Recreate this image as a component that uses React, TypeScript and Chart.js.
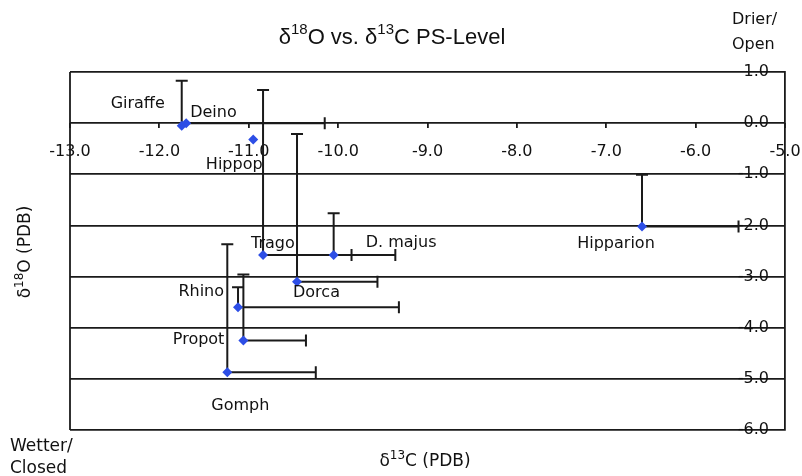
import React, { useEffect, useRef } from 'react';
import { Chart, registerables } from 'chart.js';

Chart.register(...registerables);

// ---- data ----
const species = ['Giraffe', 'Deino', 'Hippop', 'Trago', 'D. majus', 'Hipparion', 'Rhino', 'Dorca', 'Propot', 'Gomph'];
const d13C = [-11.75, -11.70, -10.95, -10.84, -10.05, -6.60, -11.12, -10.46, -11.06, -11.24];
const d18O = [-0.05, 0.0, -0.32, -2.58, -2.58, -2.02, -3.60, -3.10, -4.25, -4.87];
const xErrPlus = [0, 1.55, 0, 0.99, 0.69, 1.08, 1.80, 0.90, 0.70, 0.99];
const yErrPlus = [0.88, 0, 0, 3.23, 0.82, 1.01, 0.39, 2.89, 1.29, 2.50];
const xTickRange = [-13, -5];
const yTickRange = [-6, 1];

// ---- label layout (pixel offsets from each point, text alignment) ----
const labelLayout: [number, number, CanvasTextAlign][] = [
  [-17, -22, 'right'],
  [4, -10, 'left'],
  [-19, 25, 'center'],
  [-12, -11, 'left'],
  [32, -12, 'left'],
  [-26, 17, 'center'],
  [-14, -15, 'right'],
  [-4, 11, 'left'],
  [-19, -1, 'right'],
  [13, 34, 'center'],
];

const BLUE = '#2d4ee6';
const LINE = '#1a1a1a';
const TEXT = '#111111';
const FONT = "'DejaVu Sans', sans-serif";
const TITLE_FONT = "'Liberation Sans', Arial, sans-serif";

type Part = { t: string; sup?: boolean };

function drawRich(ctx: CanvasRenderingContext2D, parts: Part[], x: number, y: number, size: number, supSize: number, raise: number, family: string, align: 'left' | 'center') {
  let total = 0;
  for (const p of parts) {
    ctx.font = `${p.sup ? supSize : size}px ${family}`;
    total += ctx.measureText(p.t).width;
  }
  let cx = align === 'center' ? x - total / 2 : x;
  ctx.textAlign = 'left';
  ctx.textBaseline = 'alphabetic';
  for (const p of parts) {
    ctx.font = `${p.sup ? supSize : size}px ${family}`;
    ctx.fillText(p.t, cx, p.sup ? y - raise : y);
    cx += ctx.measureText(p.t).width;
  }
}

const annotPlugin = {
  id: 'annot',
  beforeDatasetsDraw(chart: any) {
    const { ctx, chartArea, scales } = chart;
    const xs = scales.x;
    const ys = scales.y;
    ctx.save();
    ctx.strokeStyle = LINE;
    ctx.lineWidth = 1.8;
    // left frame line
    ctx.beginPath();
    ctx.moveTo(chartArea.left, chartArea.top);
    ctx.lineTo(chartArea.left, chartArea.bottom);
    ctx.stroke();
    ctx.lineWidth = 2;
    const cap = 6;
    for (let i = 0; i < d13C.length; i++) {
      const px = xs.getPixelForValue(d13C[i]);
      const py = ys.getPixelForValue(d18O[i]);
      if (xErrPlus[i] > 0) {
        const ex = xs.getPixelForValue(d13C[i] + xErrPlus[i]);
        ctx.beginPath();
        ctx.moveTo(px, py);
        ctx.lineTo(ex, py);
        ctx.moveTo(ex, py - cap);
        ctx.lineTo(ex, py + cap);
        ctx.stroke();
      }
      if (yErrPlus[i] > 0) {
        const ey = ys.getPixelForValue(d18O[i] + yErrPlus[i]);
        ctx.beginPath();
        ctx.moveTo(px, py);
        ctx.lineTo(px, ey);
        ctx.moveTo(px - cap, ey);
        ctx.lineTo(px + cap, ey);
        ctx.stroke();
      }
    }
    ctx.restore();
  },
  afterDatasetsDraw(chart: any) {
    const { ctx, scales } = chart;
    const xs = scales.x;
    const ys = scales.y;
    ctx.save();
    ctx.fillStyle = TEXT;
    ctx.font = `16px ${FONT}`;
    ctx.textBaseline = 'middle';
    for (let i = 0; i < species.length; i++) {
      const px = xs.getPixelForValue(d13C[i]);
      const py = ys.getPixelForValue(d18O[i]);
      const [dx, dy, al] = labelLayout[i];
      ctx.textAlign = al;
      ctx.fillText(species[i], px + dx, py + dy);
    }
    ctx.restore();
  },
  afterDraw(chart: any) {
    const { ctx } = chart;
    ctx.save();
    ctx.fillStyle = TEXT;
    // title
    drawRich(ctx, [
      { t: 'δ' }, { t: '18', sup: true }, { t: 'O vs. δ' }, { t: '13', sup: true }, { t: 'C PS-Level' },
    ], 392, 44, 22, 15, 10, TITLE_FONT, 'center');
    // x axis title
    drawRich(ctx, [{ t: 'δ' }, { t: '13', sup: true }, { t: 'C (PDB)' }], 425, 466, 17, 12, 7, FONT, 'center');
    // y axis title (rotated)
    ctx.save();
    ctx.translate(30, 252);
    ctx.rotate(-Math.PI / 2);
    drawRich(ctx, [{ t: 'δ' }, { t: '18', sup: true }, { t: 'O (PDB)' }], 0, 0, 17, 12, 7, FONT, 'center');
    ctx.restore();
    // corner notes
    ctx.textAlign = 'left';
    ctx.textBaseline = 'middle';
    ctx.font = `16px ${FONT}`;
    ctx.fillText('Drier/', 732, 20);
    ctx.fillText('Open', 732, 45);
    ctx.font = `17px ${FONT}`;
    ctx.fillText('Wetter/', 10, 447);
    ctx.fillText('Closed', 10, 469);
    ctx.restore();
  },
};

export default function App() {
  const ref = useRef<HTMLCanvasElement>(null);
  useEffect(() => {
    document.body.style.margin = '0';
    const canvas = ref.current!;
    const chart = new Chart(canvas, {
      type: 'scatter',
      data: {
        datasets: [
          {
            data: d13C.map((x, i) => ({ x, y: d18O[i] })),
            pointStyle: 'rectRot',
            pointRadius: 5,
            pointHoverRadius: 5,
            backgroundColor: BLUE,
            borderColor: BLUE,
            borderWidth: 0,
          },
        ],
      },
      options: {
        responsive: false,
        animation: false,
        devicePixelRatio: 1,
        layout: { padding: { left: 70, right: 17, top: 72, bottom: 46 } },
        events: [],
        plugins: {
          legend: { display: false },
          tooltip: { enabled: false },
          title: { display: false },
        },
        scales: {
          x: {
            type: 'linear',
            min: xTickRange[0],
            max: xTickRange[1],
            position: { y: 0 } as any,
            afterFit: (s: any) => {
              s.height = 0;
              s.paddingLeft = 0;
              s.paddingRight = 0;
            },
            ticks: {
              stepSize: 1,
              autoSkip: false,
              maxRotation: 0,
              padding: 14,
              color: TEXT,
              font: { family: FONT, size: 16 },
              callback: (v: any) => Number(v).toFixed(1),
            },
            grid: { drawOnChartArea: false, drawTicks: true, tickLength: 5, color: LINE, lineWidth: 1.8 },
            border: { display: false },
          },
          y: {
            type: 'linear',
            min: yTickRange[0],
            max: yTickRange[1],
            position: 'right',
            afterFit: (s: any) => {
              s.width = 0;
              s.paddingTop = 0;
              s.paddingBottom = 0;
            },
            ticks: {
              stepSize: 1,
              mirror: true,
              padding: -16,
              color: TEXT,
              font: { family: FONT, size: 16 },
              callback: (v: any) => Number(v).toFixed(1),
            },
            grid: { color: LINE, lineWidth: 1.8, drawTicks: false },
            border: { display: true, color: LINE, width: 1.8 },
          },
        },
      },
      plugins: [annotPlugin],
    });
    return () => chart.destroy();
  }, []);
  return <canvas ref={ref} width={802} height={476} style={{ display: 'block' }} />;
}
